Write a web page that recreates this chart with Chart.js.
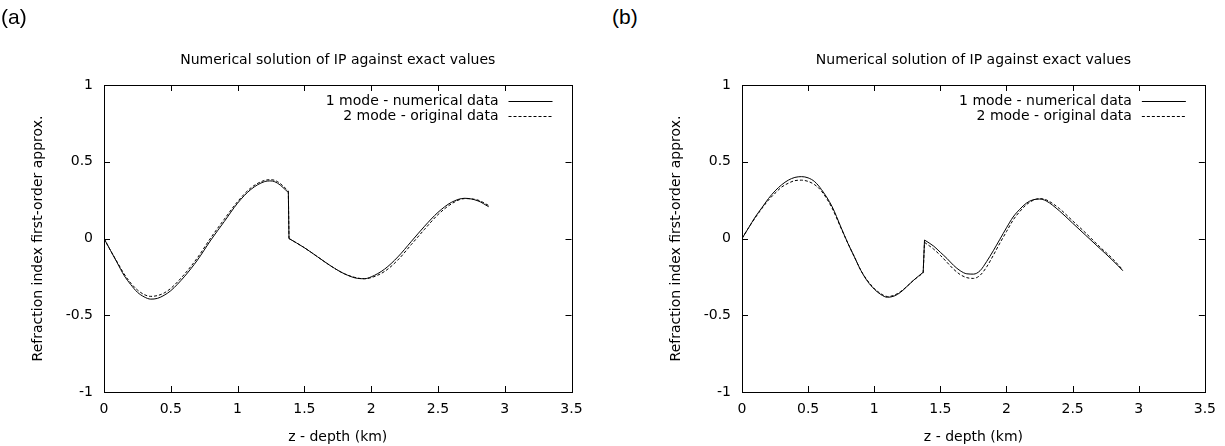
<!DOCTYPE html>
<html>
<head>
<meta charset="utf-8">
<script src="https://cdn.jsdelivr.net/npm/chart.js@4.4.1/dist/chart.umd.min.js"></script>
<style>
  body { margin: 0; background: #fff; }
  #wrap { position: relative; width: 1225px; height: 446px; overflow: hidden; }
  .panel { position: absolute; top: 0; height: 446px; }
  .tag { position: absolute; top: 5px; font: 21px "Liberation Sans", Arial, sans-serif; color: #000; }
</style>
</head>
<body>
<div id="wrap">
  <div class="panel" style="left:0;width:612px"><canvas id="chartA"></canvas></div>
  <div class="panel" style="left:638px;width:587px"><canvas id="chartB"></canvas></div>
  <div class="tag" style="left:1px">(a)</div>
  <div class="tag" style="left:612px">(b)</div>
</div>
<script>
const titleText = 'Numerical solution of IP against exact values';
const xTitle = 'z - depth (km)';
const yTitle = 'Refraction index first-order approx.';
const seriesNames = ['1 mode - numerical data', '2 mode - original data'];
const xTicks = [0, 0.5, 1, 1.5, 2, 2.5, 3, 3.5];
const yTicks = [-1, -0.5, 0, 0.5, 1];

// panel (a)
const aDepth = [0, 0.05, 0.1, 0.15, 0.2, 0.25, 0.3, 0.35, 0.4, 0.45, 0.5, 0.6, 0.7, 0.8, 0.9, 1.0, 1.1, 1.2, 1.25, 1.3, 1.38,
  1.385, 1.5, 1.6, 1.7, 1.8, 1.9, 1.95, 2.0, 2.1, 2.2, 2.3, 2.4, 2.5, 2.6, 2.7, 2.8, 2.88];
const aNumerical = [0, -0.08, -0.16, -0.24, -0.3, -0.35, -0.38, -0.395, -0.39, -0.37, -0.34, -0.25, -0.14, -0.01, 0.11, 0.23, 0.32, 0.37, 0.375, 0.36, 0.3,
  0, -0.06, -0.12, -0.18, -0.23, -0.26, -0.262, -0.25, -0.2, -0.12, -0.02, 0.08, 0.17, 0.235, 0.262, 0.245, 0.207];
const aOriginal = [0, -0.08, -0.155, -0.23, -0.29, -0.335, -0.365, -0.377, -0.372, -0.355, -0.325, -0.235, -0.125, 0.005, 0.125, 0.24, 0.33, 0.378, 0.383, 0.37, 0.31,
  0, -0.06, -0.12, -0.18, -0.23, -0.258, -0.262, -0.255, -0.215, -0.14, -0.04, 0.06, 0.155, 0.225, 0.26, 0.25, 0.215];

// panel (b)
const bDepth = [0, 0.05, 0.1, 0.15, 0.2, 0.25, 0.3, 0.35, 0.4, 0.45, 0.5, 0.55, 0.6, 0.68, 0.75, 0.8, 0.85, 0.9, 0.95, 1.0, 1.05, 1.1, 1.15, 1.2, 1.25, 1.3, 1.37,
  1.38, 1.45, 1.5, 1.55, 1.6, 1.65, 1.7, 1.75, 1.8, 1.85, 1.9, 1.95, 2.0, 2.05, 2.1, 2.15, 2.2, 2.25, 2.3, 2.4, 2.5, 2.6, 2.7, 2.8, 2.88];
const bNumerical = [0, 0.07, 0.14, 0.2, 0.26, 0.31, 0.35, 0.38, 0.398, 0.403, 0.395, 0.37, 0.32, 0.21, 0.07, -0.03, -0.12, -0.21, -0.28, -0.33, -0.365, -0.383, -0.375, -0.35, -0.31, -0.27, -0.22,
  -0.01, -0.05, -0.09, -0.13, -0.175, -0.21, -0.23, -0.232, -0.21, -0.15, -0.08, -0.005, 0.07, 0.14, 0.19, 0.23, 0.252, 0.257, 0.245, 0.18, 0.1, 0.02, -0.06, -0.14, -0.21];
const bOriginal = [0, 0.07, 0.135, 0.195, 0.25, 0.295, 0.335, 0.36, 0.377, 0.38, 0.372, 0.35, 0.31, 0.2, 0.065, -0.03, -0.12, -0.21, -0.275, -0.325, -0.36, -0.378, -0.37, -0.345, -0.31, -0.27, -0.225,
  -0.025, -0.07, -0.11, -0.155, -0.2, -0.235, -0.255, -0.26, -0.24, -0.185, -0.11, -0.03, 0.045, 0.12, 0.175, 0.22, 0.248, 0.26, 0.252, 0.195, 0.115, 0.035, -0.05, -0.13, -0.205];

const FONT = 'DejaVu Sans';
Chart.defaults.font.family = FONT;
Chart.defaults.font.size = 14;
Chart.defaults.color = '#000';

// gnuplot-like frame with inward ticks on all four sides, plus the key
const framePlugin = {
  id: 'frame',
  afterDatasetsDraw(chart) {
    const {ctx, chartArea: a, scales: {x, y}} = chart;
    ctx.save();
    ctx.strokeStyle = '#000';
    ctx.lineWidth = 1;
    ctx.beginPath();
    xTicks.forEach(v => {
      const px = Math.round(x.getPixelForValue(v)) + 0.5;
      ctx.moveTo(px, a.bottom); ctx.lineTo(px, a.bottom - 6);
      ctx.moveTo(px, a.top); ctx.lineTo(px, a.top + 6);
    });
    yTicks.forEach(v => {
      const py = Math.round(y.getPixelForValue(v)) + 0.5;
      ctx.moveTo(a.left, py); ctx.lineTo(a.left + 6, py);
      ctx.moveTo(a.right, py); ctx.lineTo(a.right - 6, py);
    });
    ctx.stroke();
    ctx.strokeRect(Math.round(a.left) + 0.5, Math.round(a.top) + 0.5,
      Math.round(a.right - a.left), Math.round(a.bottom - a.top));
    ctx.font = '14px "' + FONT + '"';
    ctx.fillStyle = '#000';
    ctx.textAlign = 'right';
    ctx.textBaseline = 'middle';
    chart.data.datasets.filter(ds => ds.inKey).forEach((ds, i) => {
      const ty = a.top + 16 + i * 15;
      ctx.fillText(ds.label, a.right - 73, ty);
      ctx.beginPath();
      ctx.setLineDash(ds.borderDash || []);
      ctx.moveTo(a.right - 63, Math.round(ty) + 0.5);
      ctx.lineTo(a.right - 19, Math.round(ty) + 0.5);
      ctx.stroke();
    });
    ctx.restore();
  }
};

// a series is drawn as: smooth part before the jump, the jump itself, smooth part after
function seriesParts(label, depth, values, dash) {
  const pts = depth.map((z, i) => ({x: z, y: values[i]}));
  let j = 1;
  while (j < pts.length && depth[j] - depth[j - 1] > 0.02) j++;
  const base = {label, borderColor: '#000', borderWidth: 1, borderDash: dash, pointRadius: 0, cubicInterpolationMode: 'monotone'};
  return [
    Object.assign({}, base, {data: pts.slice(0, j), inKey: true}),
    Object.assign({}, base, {data: pts.slice(j - 1, j + 1)}),
    Object.assign({}, base, {data: pts.slice(j)})
  ];
}

function makeChart(id, depth, numerical, original, rightPad) {
  return new Chart(document.getElementById(id), {
    type: 'line',
    data: {
      datasets: seriesParts(seriesNames[0], depth, numerical, [])
        .concat(seriesParts(seriesNames[1], depth, original, [3, 2]))
    },
    options: {
      responsive: true,
      maintainAspectRatio: false,
      animation: false,
      layout: {padding: {left: 0, right: rightPad, top: 0, bottom: 0}},
      plugins: {
        legend: {display: false},
        tooltip: {enabled: false},
        title: {
          display: true,
          text: titleText,
          fullSize: false,
          font: {size: 14, weight: 'normal'},
          padding: {top: 51.6, bottom: 16.6}
        }
      },
      scales: {
        x: {
          type: 'linear',
          min: 0, max: 3.5,
          afterBuildTicks: s => { s.ticks = xTicks.map(v => ({value: v})); },
          afterFit: s => { s.height = 54; },
          grid: {display: false, drawTicks: false},
          border: {display: false},
          ticks: {padding: 9, maxRotation: 0, autoSkip: false, callback: v => String(v)},
          title: {display: true, text: xTitle, padding: {top: 0, bottom: 0.6}}
        },
        y: {
          type: 'linear',
          min: -1, max: 1,
          afterBuildTicks: s => { s.ticks = yTicks.map(v => ({value: v})); },
          afterFit: s => { s.width = 104; },
          grid: {display: false, drawTicks: false},
          border: {display: false},
          ticks: {padding: 11, autoSkip: false, callback: v => String(v)},
          title: {display: true, text: yTitle, padding: {top: 30, bottom: 0}}
        }
      }
    },
    plugins: [framePlugin]
  });
}

makeChart('chartA', aDepth, aNumerical, aOriginal, 40.5);
makeChart('chartB', bDepth, bNumerical, bOriginal, 16);
</script>
</body>
</html>
